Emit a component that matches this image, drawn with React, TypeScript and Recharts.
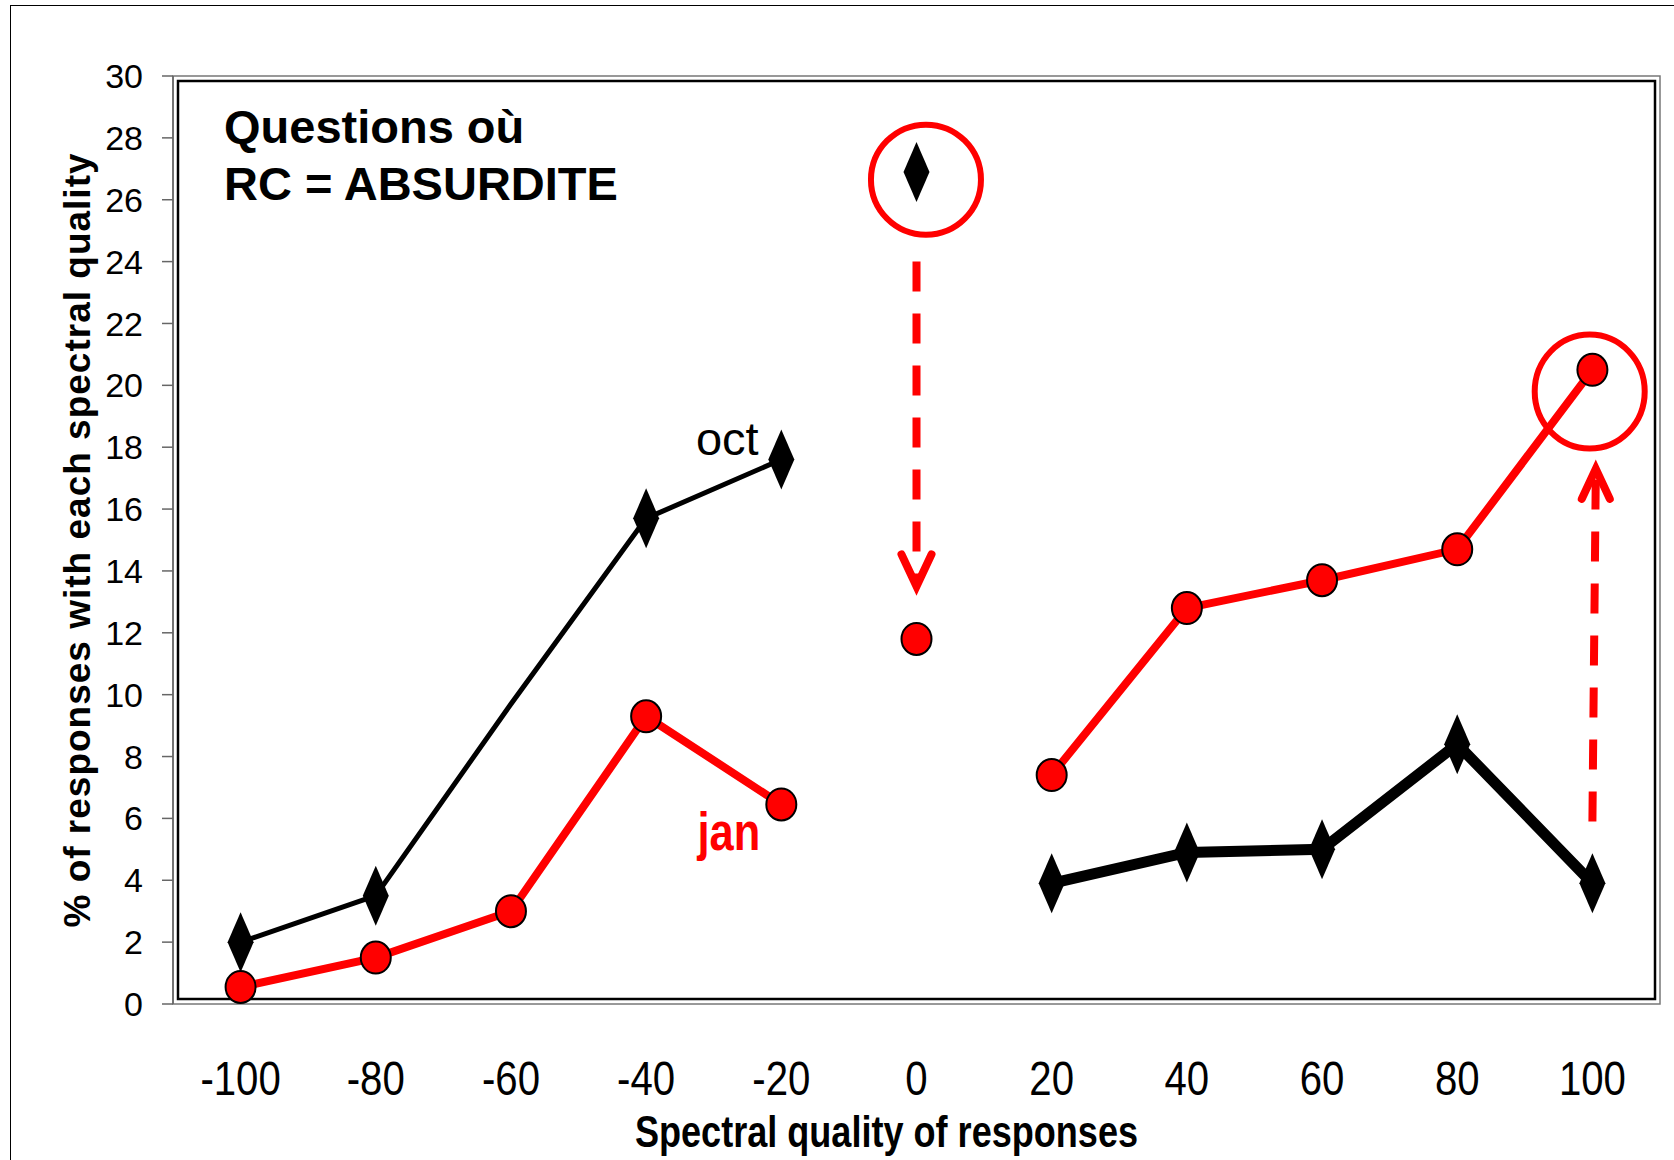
import { LineChart, Line, XAxis, YAxis, ReferenceArea, ReferenceDot, ReferenceLine } from "recharts"

const categories = [-100, -80, -60, -40, -20, 0, 20, 40, 60, 80, 100]
const octValues = [2.0, 3.5, 9.7, 15.7, 17.6, 26.9, 3.9, 4.9, 5.0, 8.4, 3.9]
const janValues = [0.55, 1.5, 3.0, 9.3, 6.45, 11.8, 7.4, 12.8, 13.7, 14.7, 20.5]
// the -60 oct point has no marker in the original
const octHasMarker = [true, true, false, true, true, true, true, true, true, true, true]
const xBoundaries = [-110, -90, -70, -50, -30, -10, 10, 30, 50, 70, 90, 110]
const yTicks = [0, 2, 4, 6, 8, 10, 12, 14, 16, 18, 20, 22, 24, 26, 28, 30]

const SANS = "'Liberation Sans', Arial, sans-serif"
const RED = "#ff0000"
// no narrow face installed, so squeeze the regular one
const NARROW_SCALE = 0.82

// split each series into left / middle / right pieces (the lines break around 0)
const rows = categories.map((x, i) => ({
  x,
  octL: x < 0 ? octValues[i] : null,
  octM: x === 0 ? octValues[i] : null,
  octR: x > 0 ? octValues[i] : null,
  janL: x < 0 ? janValues[i] : null,
  janM: x === 0 ? janValues[i] : null,
  janR: x > 0 ? janValues[i] : null,
}))

const diamond = (props: any) => {
  const { cx, cy, index } = props
  if (cx == null || cy == null || !octHasMarker[index]) return <g key={`d-${index}`} />
  return (
    <polygon
      key={`d-${index}`}
      points={`${cx},${cy - 30} ${cx + 13},${cy} ${cx},${cy + 30} ${cx - 13},${cy}`}
      fill="#000"
    />
  )
}

const circle = (props: any) => {
  const { cx, cy, index } = props
  if (cx == null || cy == null) return <g key={`c-${index}`} />
  return <ellipse key={`c-${index}`} cx={cx} cy={cy} rx={15} ry={16} fill={RED} stroke="#000" strokeWidth={2} />
}

const plotFrame = (props: any) => {
  const { x, y, width, height } = props
  return (
    <g>
      <rect x={x} y={y} width={width} height={height} fill="none" stroke="#777" strokeWidth={1.5} />
      <rect x={x + 5} y={y + 5} width={width - 10} height={height - 10} fill="none" stroke="#000" strokeWidth={2.5} />
    </g>
  )
}

const NarrowText = ({ x, y, size, weight, fill, anchor, dy, children }: any) => (
  <text
    transform={`translate(${x},${y}) scale(${NARROW_SCALE},1)`}
    x={0}
    y={0}
    dy={dy}
    textAnchor={anchor || "middle"}
    fontFamily={SANS}
    fontWeight={weight || "normal"}
    fontSize={size}
    fill={fill || "#000"}
  >
    {children}
  </text>
)

const xTick = (props: any) => (
  <NarrowText key={`xt-${props.index}`} x={props.x} y={props.y} size={49} dy="0.71em">
    {props.payload.value}
  </NarrowText>
)

export default function App() {
  return (
    <div style={{ position: "absolute", left: 0, top: 0, width: 1674, height: 1160, overflow: "hidden", background: "#fff" }}>
      <div
        style={{
          position: "absolute",
          left: 10,
          top: 5,
          width: 1700,
          height: 1200,
          border: "1.5px solid #000",
        }}
      />
      <div style={{ position: "absolute", left: 0, top: 0 }}>
        <LineChart width={1674} height={1160} data={rows} margin={{ top: 76, right: 14, bottom: 56, left: 113 }}>
          <XAxis
            xAxisId="ticks"
            dataKey="x"
            type="number"
            domain={[-110, 110]}
            ticks={xBoundaries}
            interval={0}
            tick={false}
            tickSize={15}
            height={0}
            axisLine={{ stroke: "#666", strokeWidth: 1.5 }}
            tickLine={{ stroke: "#666", strokeWidth: 1.5 }}
          />
          <XAxis
            xAxisId="labels"
            dataKey="x"
            type="number"
            domain={[-110, 110]}
            ticks={categories}
            interval={0}
            axisLine={false}
            tickLine={false}
            tickSize={0}
            tickMargin={56}
            height={100}
            tick={xTick}
            label={{
              content: (p: any) => {
                const vb = p.viewBox || { x: 173, y: 1004, width: 1487 }
                return (
                  <NarrowText x={vb.x + vb.width / 2 - 30} y={1147} size={44} weight="bold">
                    Spectral quality of responses
                  </NarrowText>
                )
              },
            }}
          />
          <YAxis
            type="number"
            domain={[0, 30]}
            ticks={yTicks}
            interval={0}
            width={60}
            tickSize={11}
            tickMargin={19}
            axisLine={{ stroke: "#666", strokeWidth: 1.5 }}
            tickLine={{ stroke: "#666", strokeWidth: 1.5 }}
            tick={{ fontSize: 34, fill: "#000", fontFamily: SANS }}
            label={{
              content: (p: any) => {
                const vb = p.viewBox || { y: 76, height: 928 }
                const cy = vb.y + vb.height / 2
                return (
                  <text
                    x={90}
                    y={cy}
                    transform={`rotate(-90, 90, ${cy})`}
                    textAnchor="middle"
                    fontFamily={SANS}
                    fontWeight="bold"
                    fontSize={37}
                    letterSpacing={1}
                    fill="#000"
                  >
                    % of responses with each spectral quality
                  </text>
                )
              },
            }}
          />

          <ReferenceArea xAxisId="ticks" x1={-110} x2={110} y1={0} y2={30} shape={plotFrame} />

          <Line xAxisId="ticks" dataKey="octL" stroke="#000" strokeWidth={5} dot={diamond} activeDot={false} isAnimationActive={false} />
          <Line xAxisId="ticks" dataKey="octR" stroke="#000" strokeWidth={11} dot={diamond} activeDot={false} isAnimationActive={false} />
          <Line xAxisId="ticks" dataKey="octM" stroke="none" dot={diamond} activeDot={false} isAnimationActive={false} />
          <Line xAxisId="ticks" dataKey="janL" stroke={RED} strokeWidth={8} dot={circle} activeDot={false} isAnimationActive={false} />
          <Line xAxisId="ticks" dataKey="janR" stroke={RED} strokeWidth={8} dot={circle} activeDot={false} isAnimationActive={false} />
          <Line xAxisId="ticks" dataKey="janM" stroke="none" dot={circle} activeDot={false} isAnimationActive={false} />

          {/* red annotation rings */}
          <ReferenceDot
            xAxisId="ticks"
            x={1.4}
            y={26.65}
            shape={(p: any) => <ellipse cx={p.cx} cy={p.cy} rx={55} ry={55} fill="none" stroke={RED} strokeWidth={6} />}
          />
          <ReferenceDot
            xAxisId="ticks"
            x={99.6}
            y={19.8}
            shape={(p: any) => <ellipse cx={p.cx} cy={p.cy} rx={55} ry={57} fill="none" stroke={RED} strokeWidth={6} />}
          />

          {/* dashed arrows */}
          <ReferenceLine
            xAxisId="ticks"
            segment={[{ x: 0, y: 24 }, { x: 0, y: 13.7 }]}
            stroke={RED}
            strokeWidth={8}
            strokeDasharray="30 22"
          />
          <ReferenceDot
            xAxisId="ticks"
            x={0}
            y={13.5}
            shape={(p: any) => (
              <polyline
                points={`${p.cx - 15},${p.cy - 32} ${p.cx},${p.cy} ${p.cx + 15},${p.cy - 32}`}
                fill="none"
                stroke={RED}
                strokeWidth={8}
                strokeLinecap="round"
              />
            )}
          />
          <ReferenceLine
            xAxisId="ticks"
            segment={[{ x: 100, y: 5.9 }, { x: 100.5, y: 17.1 }]}
            stroke={RED}
            strokeWidth={8}
            strokeDasharray="30 22"
          />
          <ReferenceDot
            xAxisId="ticks"
            x={100.5}
            y={17.3}
            shape={(p: any) => (
              <polyline
                points={`${p.cx - 14},${p.cy + 30} ${p.cx},${p.cy} ${p.cx + 14},${p.cy + 30}`}
                fill="none"
                stroke={RED}
                strokeWidth={8}
                strokeLinecap="round"
              />
            )}
          />

          {/* series names */}
          <ReferenceDot
            xAxisId="ticks"
            x={-28}
            y={17.75}
            shape={(p: any) => (
              <text x={p.cx} y={p.cy} textAnchor="middle" fontFamily={SANS} fontSize={47} fill="#000">
                oct
              </text>
            )}
          />
          <ReferenceDot
            xAxisId="ticks"
            x={-27.75}
            y={4.98}
            shape={(p: any) => (
              <NarrowText x={p.cx} y={p.cy} size={53} weight="bold" fill={RED}>
                jan
              </NarrowText>
            )}
          />

          {/* title inside the plot area */}
          <ReferenceDot
            xAxisId="ticks"
            x={-110}
            y={30}
            shape={(p: any) => (
              <text fontFamily={SANS} fontWeight="bold" fontSize={47} fill="#000">
                <tspan x={p.cx + 51} y={p.cy + 67}>Questions où</tspan>
                <tspan x={p.cx + 51} y={p.cy + 124}>RC = ABSURDITE</tspan>
              </text>
            )}
          />
        </LineChart>
      </div>
    </div>
  )
}
